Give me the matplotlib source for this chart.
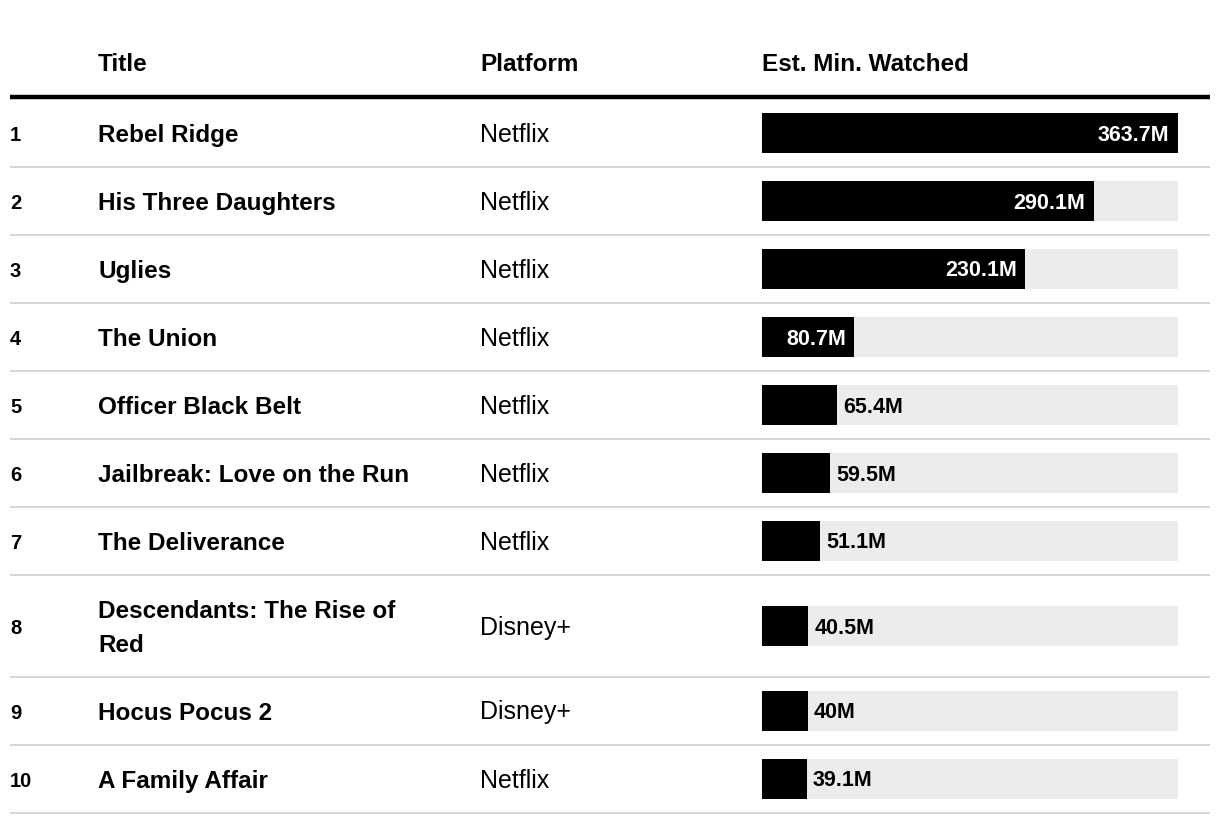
import matplotlib.pyplot as plt

# Table data
ranks = [1, 2, 3, 4, 5, 6, 7, 8, 9, 10]
titles = ["Rebel Ridge", "His Three Daughters", "Uglies", "The Union",
          "Officer Black Belt", "Jailbreak: Love on the Run", "The Deliverance",
          "Descendants: The Rise of\nRed", "Hocus Pocus 2", "A Family Affair"]
platforms = ["Netflix", "Netflix", "Netflix", "Netflix", "Netflix", "Netflix",
             "Netflix", "Disney+", "Disney+", "Netflix"]
minutes = [363.7, 290.1, 230.1, 80.7, 65.4, 59.5, 51.1, 40.5, 40, 39.1]
labels = ["363.7M", "290.1M", "230.1M", "80.7M", "65.4M", "59.5M", "51.1M",
          "40.5M", "40M", "39.1M"]
headers = ["Title", "Platform", "Est. Min. Watched"]

plt.rcParams['font.family'] = ['Liberation Sans', 'DejaVu Sans']

W, H = 1220, 824
fig = plt.figure(figsize=(W / 100, H / 100), dpi=100)
ax = fig.add_axes([0, 0, 1, 1])
ax.set_xlim(0, W)
ax.set_ylim(H, 0)
ax.axis('off')

# layout (pixels)
x_rank, x_title, x_plat, x_bar0, x_bar1 = 10, 98, 480, 762, 1178
line_l, line_r = 10, 1210
row_h, row_h2 = 68, 102
top = 99
line_gap = 33

# header
for txt, x in zip(headers, [x_title, x_plat, x_bar0]):
    ax.text(x, 71, txt, fontsize=17.5, fontweight='bold', va='baseline', ha='left')
ax.plot([line_l, line_r], [97, 97], color='black', lw=3.2, solid_capstyle='butt')

# row positions
centers = []
y = top
for t in titles:
    h = row_h2 if '\n' in t else row_h
    centers.append(y + h / 2)
    y += h
    ax.plot([line_l, line_r], [y, y], color='#d6d6d6', lw=1.4, solid_capstyle='butt')

for r, t, p, c in zip(ranks, titles, platforms, centers):
    ax.text(x_rank, c + 8, str(r), fontsize=14.5, fontweight='bold', va='baseline', ha='left')
    parts = t.split('\n')
    for i, part in enumerate(parts):
        yy = c + (i - (len(parts) - 1) / 2) * line_gap
        ax.text(x_title, yy + 9, part, fontsize=17.5, fontweight='bold',
                va='baseline', ha='left')
    ax.text(x_plat, c + 8.5, p, fontsize=18, va='baseline', ha='left')

# bars in data units
bx = fig.add_axes([x_bar0 / W, 0, (x_bar1 - x_bar0) / W, 1])
bx.set_xlim(0, max(minutes))
bx.set_ylim(H, 0)
bx.axis('off')
bx.barh(centers, [max(minutes)] * len(minutes), height=40, color='#ececec')
bx.barh(centers, minutes, height=40, color='black')
for v, lab, c in zip(minutes, labels, centers):
    if v / max(minutes) > 0.2:
        bx.annotate(lab, (v, c + 7.5), xytext=(-6, 0), textcoords='offset points',
                    ha='right', va='baseline', color='white', fontsize=15.5, fontweight='bold')
    else:
        bx.annotate(lab, (v, c + 7.5), xytext=(4.5, 0), textcoords='offset points',
                    ha='left', va='baseline', color='black', fontsize=15.5, fontweight='bold')

fig.savefig('out.png', dpi=100)
